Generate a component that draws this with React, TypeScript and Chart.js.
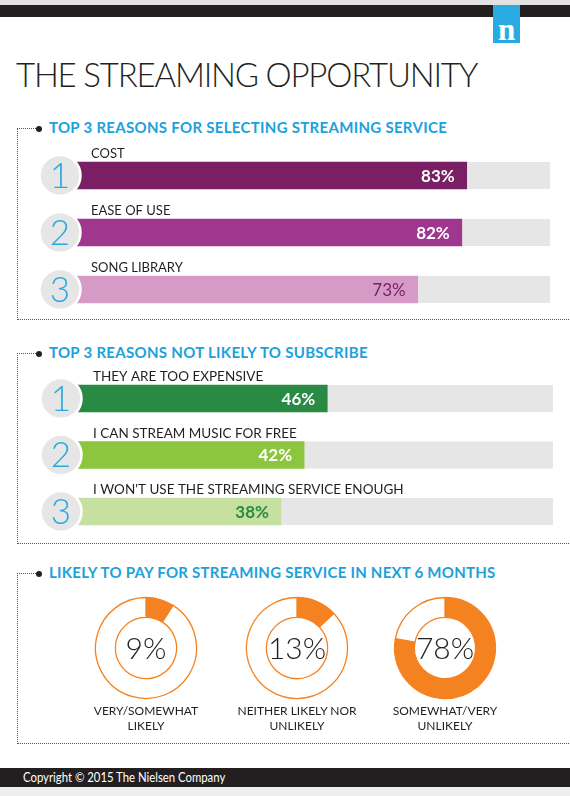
import React, { useEffect, useRef } from "react";
import { Chart, registerables } from "chart.js";

Chart.register(...registerables);

// ---------- data ----------
const ranks = ["1", "2", "3"];

const selectLabels = ["COST", "EASE OF USE", "SONG LIBRARY"];
const selectValues = [83, 82, 73];
const selectColors = ["#7b1f65", "#a0378f", "#d59ac6"];
const selectValueColors = ["#ffffff", "#ffffff", "#7b1f65"];
const selectValueWeights = ["700", "700", "400"];

const notLabels = [
  "THEY ARE TOO EXPENSIVE",
  "I CAN STREAM MUSIC FOR FREE",
  "I WON'T USE THE STREAMING SERVICE ENOUGH",
];
const notValues = [46, 42, 38];
const notColors = ["#288a43", "#8cc63f", "#c5e09f"];
const notValueColors = ["#ffffff", "#ffffff", "#288a43"];
const notValueWeights = ["700", "700", "700"];

const payLabels = [
  ["VERY/SOMEWHAT", "LIKELY"],
  ["NEITHER LIKELY NOR", "UNLIKELY"],
  ["SOMEWHAT/VERY", "UNLIKELY"],
];
const payValues = [9, 13, 78];

const headers = [
  "TOP 3 REASONS FOR SELECTING STREAMING SERVICE",
  "TOP 3 REASONS NOT LIKELY TO SUBSCRIBE",
  "LIKELY TO PAY FOR STREAMING SERVICE IN NEXT 6 MONTHS",
];

const FONT = "Lato, 'Open Sans', sans-serif";
const BLUE = "#1ba1db";
const ORANGE = "#f58220";
const TEXT = "#231f20";

type HBarProps = {
  top: number;
  height: number;
  padding: { left: number; right: number; top: number; bottom: number };
  labels: string[];
  values: number[];
  colors: string[];
  valueColors: string[];
  valueWeights: string[];
  max: number;
  labelSize: number;
  labelDx: number;
};

function HBar(p: HBarProps) {
  const ref = useRef<HTMLCanvasElement>(null);
  useEffect(() => {
    const decor = {
      id: "decor",
      beforeDatasetsDraw(chart: any) {
        const ctx = chart.ctx;
        const { left, right } = chart.chartArea;
        const meta = chart.getDatasetMeta(0);
        ctx.save();
        ctx.fillStyle = "#e6e6e6";
        meta.data.forEach((bar: any) => {
          const { y, height } = bar.getProps(["y", "height"], true);
          ctx.fillRect(left, y - height / 2, right - left, height);
        });
        ctx.restore();
      },
      afterDatasetsDraw(chart: any) {
        const ctx = chart.ctx;
        const { left } = chart.chartArea;
        const meta = chart.getDatasetMeta(0);
        meta.data.forEach((bar: any, i: number) => {
          const { x, y, height } = bar.getProps(["x", "y", "height"], true);
          ctx.save();
          // value label
          ctx.font = `${p.valueWeights[i]} 17px ${FONT}`;
          ctx.fillStyle = p.valueColors[i];
          ctx.textAlign = "right";
          ctx.textBaseline = "middle";
          ctx.fillText(`${p.values[i]}%`, x - 12, y + 1);
          // category label
          ctx.font = `400 ${p.labelSize}px ${FONT}`;
          ctx.fillStyle = TEXT;
          ctx.textAlign = "left";
          ctx.textBaseline = "alphabetic";
          ctx.fillText(p.labels[i], left + p.labelDx, y - height / 2 - 4);
          // rank circle
          ctx.beginPath();
          ctx.arc(left, y, 20.5, 0, Math.PI * 2);
          ctx.fillStyle = "#e6e6e6";
          ctx.fill();
          ctx.lineWidth = 2.5;
          ctx.strokeStyle = "#ffffff";
          ctx.stroke();
          ctx.font = `300 35px ${FONT}`;
          ctx.fillStyle = "#29a9e1";
          ctx.textAlign = "center";
          ctx.textBaseline = "middle";
          ctx.fillText(ranks[i], left, y + 1);
          ctx.restore();
        });
      },
    };
    const chart = new Chart(ref.current!, {
      type: "bar",
      data: {
        labels: p.labels,
        datasets: [
          {
            data: p.values,
            backgroundColor: p.colors,
            borderWidth: 0,
            barThickness: 27,
          },
        ],
      },
      options: {
        indexAxis: "y",
        responsive: false,
        animation: false,
        layout: { padding: p.padding },
        scales: {
          x: { display: false, min: 0, max: p.max },
          y: { display: false },
        },
        plugins: { legend: { display: false }, tooltip: { enabled: false } },
      },
      plugins: [decor],
    } as any);
    return () => chart.destroy();
  }, []);
  return (
    <canvas
      ref={ref}
      width={570}
      height={p.height}
      style={{ position: "absolute", left: 0, top: p.top, width: 570, height: p.height }}
    />
  );
}

function Donut({ cx, cy, value }: { cx: number; cy: number; value: number }) {
  const ref = useRef<HTMLCanvasElement>(null);
  useEffect(() => {
    const center = {
      id: "center",
      afterDatasetsDraw(chart: any) {
        const ctx = chart.ctx;
        const arc = chart.getDatasetMeta(0).data[0];
        ctx.save();
        ctx.font = `300 30px ${FONT}`;
        ctx.fillStyle = TEXT;
        ctx.textAlign = "center";
        ctx.textBaseline = "middle";
        ctx.fillText(`${value}%`, arc.x, arc.y + 1);
        ctx.restore();
      },
    };
    const chart = new Chart(ref.current!, {
      type: "doughnut",
      data: {
        labels: ["value", "rest"],
        datasets: [
          {
            data: [value, 100 - value],
            backgroundColor: [ORANGE, "#ffffff"],
            borderColor: ORANGE,
            borderWidth: 1.3,
            radius: 50.5,
            cutout: 36,
            hoverOffset: 0,
          },
        ],
      },
      options: {
        responsive: false,
        animation: false,
        plugins: { legend: { display: false }, tooltip: { enabled: false } },
      },
      plugins: [center],
    } as any);
    return () => chart.destroy();
  }, []);
  return (
    <canvas
      ref={ref}
      width={120}
      height={120}
      style={{ position: "absolute", left: cx - 60, top: cy - 60, width: 120, height: 120 }}
    />
  );
}

function Section({
  top,
  bottom,
  title,
  spacing,
}: {
  top: number;
  bottom: number;
  title: string;
  spacing: number;
}) {
  const dotted = "1px dotted #555";
  return (
    <>
      <div style={{ position: "absolute", left: 17, top, width: 21, height: 0, borderTop: dotted }} />
      <div
        style={{
          position: "absolute",
          left: 17,
          top,
          width: 553,
          height: bottom - top,
          borderLeft: dotted,
          borderBottom: dotted,
        }}
      />
      <div
        style={{
          position: "absolute",
          left: 35.5,
          top: top - 2.5,
          width: 6,
          height: 6,
          borderRadius: 3,
          background: "#231f20",
        }}
      />
      <div
        style={{
          position: "absolute",
          left: 49,
          top: top - 8.3,
          font: `700 15px ${FONT}`,
          lineHeight: "15px",
          letterSpacing: spacing,
          color: BLUE,
          whiteSpace: "nowrap",
        }}
      >
        {title}
      </div>
    </>
  );
}

export default function App() {
  useEffect(() => {
    document.body.style.margin = "0";
  }, []);
  const donutX = [146, 297, 445];
  return (
    <div
      style={{
        position: "absolute",
        left: 0,
        top: 0,
        width: 570,
        height: 796,
        overflow: "hidden",
        background: "#ffffff",
        fontFamily: FONT,
      }}
    >
      {/* top bar */}
      <div style={{ position: "absolute", left: 0, top: 0, width: 570, height: 5, background: "#e2e2e2" }} />
      <div style={{ position: "absolute", left: 0, top: 5, width: 570, height: 12, background: "#231f20" }} />
      <div
        style={{
          position: "absolute",
          left: 493,
          top: 5,
          width: 27,
          height: 38,
          background: "#29abe2",
          color: "#fff",
          font: "700 31px 'Liberation Serif', 'DejaVu Serif', serif",
          textAlign: "center",
          lineHeight: "50px",
        }}
      >
        n
      </div>
      {/* title */}
      <div
        style={{
          position: "absolute",
          left: 16,
          top: 57.7,
          font: `300 33px ${FONT}`,
          lineHeight: "33px",
          letterSpacing: -1.2,
          color: TEXT,
          whiteSpace: "nowrap",
        }}
      >
        THE STREAMING OPPORTUNITY
      </div>

      <Section top={128} bottom={319} title={headers[0]} spacing={0.3} />
      <Section top={353} bottom={543} title={headers[1]} spacing={0.3} />
      <Section top={573} bottom={743} title={headers[2]} spacing={0.25} />

      <HBar
        top={140}
        height={180}
        padding={{ left: 60, right: 20, top: 7, bottom: 2 }}
        labels={selectLabels}
        values={selectValues}
        colors={selectColors}
        valueColors={selectValueColors}
        valueWeights={selectValueWeights}
        max={100}
        labelSize={13}
        labelDx={31}
      />
      <HBar
        top={360}
        height={185}
        padding={{ left: 61, right: 17, top: 10.25, bottom: 5.25 }}
        labels={notLabels}
        values={notValues}
        colors={notColors}
        valueColors={notValueColors}
        valueWeights={notValueWeights}
        max={85}
        labelSize={13.5}
        labelDx={32}
      />

      {payValues.map((v, i) => (
        <Donut key={i} cx={donutX[i]} cy={647.5} value={v} />
      ))}
      {payLabels.map((lines, i) => (
        <div
          key={i}
          style={{
            position: "absolute",
            left: donutX[i] - 80,
            top: 703,
            width: 160,
            textAlign: "center",
            font: `400 12px ${FONT}`,
            lineHeight: "15px",
            color: TEXT,
          }}
        >
          {lines.map((l, j) => (
            <div key={j}>{l}</div>
          ))}
        </div>
      ))}

      {/* footer */}
      <div style={{ position: "absolute", left: 0, top: 768, width: 570, height: 19, background: "#231f20" }} />
      <div style={{ position: "absolute", left: 0, top: 787, width: 570, height: 9, background: "#eeeeee" }} />
      <div
        style={{
          position: "absolute",
          left: 23,
          top: 769,
          font: `400 13.5px ${FONT}`,
          lineHeight: "16px",
          color: "#ffffff",
          whiteSpace: "nowrap",
          transform: "scaleX(0.84)",
          transformOrigin: "left center",
        }}
      >
        Copyright © 2015 The Nielsen Company
      </div>
    </div>
  );
}
